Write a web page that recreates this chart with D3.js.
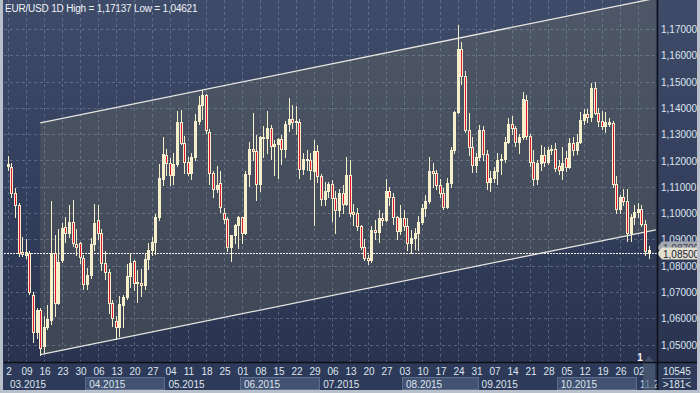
<!DOCTYPE html>
<meta charset="utf-8">
<style>
  body { margin: 0; background: #2d3a58; }
  svg { display: block; font-family: 'Liberation Sans', Arial, sans-serif; }
</style>
<body>
<div id="chart"></div>
<script src="https://cdn.jsdelivr.net/npm/d3@7"></script>
<script>
// daily EUR/USD candles, 02.03.2015 .. 05.11.2015
var opens = [
  1.1180,1.1174,1.1075,1.1031,1.0853,1.0840,1.0847,1.0690,1.0547,1.0632,
  1.0495,1.0566,1.0594,1.0850,1.0660,1.0822,1.0948,1.0923,1.0967,1.0882,
  1.0885,1.0828,1.0730,1.0764,1.0882,1.0975,1.0923,1.0811,1.0777,1.0657,
  1.0590,1.0566,1.0651,1.0680,1.0761,1.0818,1.0735,1.0735,1.0727,1.0824,
  1.0860,1.0889,1.0986,1.1128,1.1221,1.1190,1.1145,1.1185,1.1345,1.1265,
  1.1196,1.1152,1.1212,1.1352,1.1411,1.1449,1.1310,1.1152,1.1091,1.1113,
  1.1001,1.0976,1.0870,1.0917,1.0953,1.0985,1.0925,1.1150,1.1245,1.1237,
  1.1112,1.1290,1.1287,1.1324,1.1257,1.1262,1.1280,1.1244,1.1337,1.1358,
  1.1345,1.1345,1.1167,1.1205,1.1200,1.1160,1.1235,1.1140,1.1055,1.1085,
  1.1111,1.1057,1.1012,1.1076,1.1035,1.1145,1.1005,1.1000,1.0950,1.0870,
  1.0830,1.0820,1.0935,1.0930,1.0980,1.0975,1.1085,1.1060,1.0985,1.0933,
  1.0980,1.0950,1.0885,1.0905,1.0925,1.0968,1.1018,1.1045,1.1160,1.1152,
  1.1108,1.1075,1.1025,1.1115,1.1240,1.1385,1.1625,1.1520,1.1316,1.1253,
  1.1183,1.1213,1.1315,1.1225,1.1118,1.1135,1.1160,1.1200,1.1205,1.1270,
  1.1340,1.1325,1.1270,1.1290,1.1430,1.1295,1.1195,1.1130,1.1190,1.1220,
  1.1195,1.1240,1.1245,1.1180,1.1165,1.1210,1.1175,1.1265,1.1240,1.1270,
  1.1355,1.1378,1.1365,1.1475,1.1380,1.1350,1.1330,1.1340,1.1342,1.1110,
  1.1015,1.1060,1.1045,1.0925,1.0985,1.1005,1.1015,1.0960,1.0847
];
var highs = [
  1.1218,1.1190,1.1095,1.1040,1.0910,1.0900,1.0855,1.0699,1.0641,1.0640,
  1.0610,1.0650,1.1046,1.0917,1.0940,1.0962,1.0987,1.1030,1.1050,1.0940,
  1.0890,1.0840,1.0790,1.0905,1.1036,1.1030,1.0940,1.0857,1.0788,1.0671,
  1.0610,1.0683,1.0690,1.0806,1.0850,1.0820,1.0782,1.0787,1.0848,1.0887,
  1.0908,1.0995,1.1186,1.1290,1.1245,1.1208,1.1230,1.1390,1.1391,1.1294,
  1.1214,1.1228,1.1376,1.1445,1.1467,1.1452,1.1319,1.1159,1.1180,1.1161,
  1.1018,1.0984,1.0912,1.0959,1.0990,1.0986,1.1160,1.1270,1.1380,1.1296,
  1.1294,1.1330,1.1387,1.1335,1.1278,1.1285,1.1296,1.1350,1.1436,1.1412,
  1.1409,1.1358,1.1230,1.1240,1.1230,1.1278,1.1258,1.1150,1.1120,1.1120,
  1.1125,1.1085,1.1090,1.1105,1.1214,1.1200,1.1035,1.1020,1.0955,1.0900,
  1.0842,1.0950,1.0975,1.1010,1.1000,1.1128,1.1100,1.1075,1.0990,1.1030,
  1.1010,1.0980,1.0935,1.0945,1.0990,1.1035,1.1070,1.1214,1.1190,1.1165,
  1.1130,1.1095,1.1135,1.1250,1.1390,1.1714,1.1650,1.1540,1.1380,1.1290,
  1.1230,1.1335,1.1330,1.1240,1.1160,1.1175,1.1230,1.1225,1.1290,1.1360,
  1.1370,1.1330,1.1300,1.1460,1.1450,1.1300,1.1240,1.1200,1.1260,1.1250,
  1.1250,1.1260,1.1265,1.1200,1.1250,1.1235,1.1285,1.1290,1.1300,1.1385,
  1.1395,1.1395,1.1495,1.1500,1.1400,1.1390,1.1385,1.1360,1.1350,1.1140,
  1.1070,1.1090,1.1090,1.0995,1.1030,1.1040,1.1030,1.0975,1.0875
];
var lows = [
  1.1165,1.1062,1.0986,1.0838,1.0835,1.0830,1.0692,1.0511,1.0525,1.0462,
  1.0470,1.0560,1.0580,1.0610,1.0655,1.0815,1.0890,1.0910,1.0875,1.0840,
  1.0810,1.0712,1.0712,1.0755,1.0858,1.0900,1.0782,1.0748,1.0622,1.0571,
  1.0520,1.0534,1.0566,1.0672,1.0720,1.0707,1.0662,1.0686,1.0711,1.0787,
  1.0840,1.0846,1.0973,1.1107,1.1145,1.1106,1.1112,1.1180,1.1262,1.1152,
  1.1143,1.1130,1.1200,1.1340,1.1356,1.1305,1.1109,1.1061,1.1080,1.1003,
  1.0964,1.0855,1.0818,1.0888,1.0869,1.0887,1.0921,1.1104,1.1203,1.1050,
  1.1083,1.1213,1.1228,1.1207,1.1146,1.1134,1.1187,1.1215,1.1313,1.1325,
  1.1300,1.1134,1.1150,1.1165,1.1130,1.0955,1.1120,1.1030,1.1030,1.1060,
  1.0970,1.0924,1.0990,1.1000,1.1030,1.0990,1.0955,1.0935,1.0862,1.0820,
  1.0808,1.0815,1.0900,1.0890,1.0955,1.0970,1.1030,1.0960,1.0900,1.0920,
  1.0935,1.0860,1.0850,1.0865,1.0860,1.0960,1.0990,1.1040,1.1100,1.1090,
  1.1060,1.1015,1.1020,1.1100,1.1230,1.1380,1.1490,1.1310,1.1220,1.1155,
  1.1155,1.1200,1.1200,1.1090,1.1085,1.1120,1.1110,1.1150,1.1195,1.1265,
  1.1300,1.1255,1.1230,1.1280,1.1280,1.1180,1.1105,1.1110,1.1165,1.1180,
  1.1185,1.1225,1.1160,1.1150,1.1130,1.1160,1.1170,1.1220,1.1225,1.1265,
  1.1340,1.1345,1.1350,1.1375,1.1330,1.1320,1.1310,1.1330,1.1100,1.1000,
  1.1000,1.1030,1.0895,1.0895,1.0960,1.0985,1.0950,1.0840,1.0830
];
var closes = [
  1.1188,1.1075,1.1031,1.0847,1.0843,1.0852,1.0699,1.0547,1.0632,1.0488,
  1.0566,1.0596,1.0850,1.0657,1.0815,1.0942,1.0923,1.0967,1.0885,1.0872,
  1.0834,1.0730,1.0764,1.0882,1.0961,1.0923,1.0811,1.0777,1.0657,1.0600,
  1.0566,1.0654,1.0680,1.0761,1.0809,1.0735,1.0739,1.0727,1.0824,1.0860,
  1.0889,1.0986,1.1132,1.1224,1.1190,1.1145,1.1185,1.1345,1.1265,1.1196,
  1.1152,1.1212,1.1352,1.1411,1.1449,1.1316,1.1152,1.1091,1.1108,1.1024,
  1.0976,1.0870,1.0917,1.0953,1.0985,1.0925,1.1150,1.1245,1.1237,1.1112,
  1.1290,1.1287,1.1324,1.1257,1.1262,1.1280,1.1244,1.1337,1.1358,1.1345,
  1.1350,1.1167,1.1205,1.1200,1.1162,1.1235,1.1140,1.1055,1.1085,1.1110,
  1.1057,1.1012,1.1076,1.1035,1.1145,1.1002,1.0995,1.0950,1.0870,1.0830,
  1.0820,1.0935,1.0930,1.0980,1.0975,1.1085,1.1060,1.0985,1.0933,1.0980,
  1.0950,1.0885,1.0905,1.0925,1.0968,1.1018,1.1045,1.1160,1.1152,1.1105,
  1.1075,1.1025,1.1115,1.1240,1.1385,1.1625,1.1520,1.1316,1.1253,1.1183,
  1.1213,1.1315,1.1225,1.1118,1.1135,1.1160,1.1200,1.1205,1.1270,1.1340,
  1.1325,1.1270,1.1290,1.1435,1.1295,1.1195,1.1130,1.1190,1.1220,1.1195,
  1.1240,1.1245,1.1170,1.1165,1.1190,1.1175,1.1265,1.1240,1.1270,1.1355,
  1.1378,1.1365,1.1475,1.1380,1.1350,1.1330,1.1345,1.1345,1.1110,1.1015,
  1.1060,1.1045,1.0925,1.0985,1.1005,1.1015,1.0960,1.0855,1.0858
];

// weekly ticks (every 5th candle) and month bands
var weekLabels = ["2","09","16","23","30","06","13","20","27","04","11","18","25",
  "01","08","15","22","29","06","13","20","27","03","10","17","24","31",
  "07","14","21","28","05","12","19","26","02"];
var monthLabels = ["03.2015","04.2015","05.2015","06.2015","07.2015","08.2015","09.2015","10.2015","11.2015"];
var monthStarts = [0, 22, 44, 65, 87, 110, 131, 153, 175];

var priceTicks = [1.05,1.06,1.07,1.08,1.09,1.10,1.11,1.12,1.13,1.14,1.15,1.16,1.17];
var lastPrice = 1.0850, askPrice = 1.0870;
var titleHigh = 1.17137, titleLow = 1.04621;

// trend channel, [candle index, price]
var channelLower = [[9, 1.0462], [180, 1.0936]];
var channelUpper = [[9, 1.1343], [180, 1.1817]];

var W = 700, H = 393;
var plotL = 4, plotR = 657, plotB = 362;

var fmt = function(v) { return v.toFixed(5).replace(".", ","); };

var x = d3.scaleLinear().domain([0, 178]).range([7.8, 648.6]);
var y = d3.scaleLinear().domain([1.05, 1.17]).range([344.6, 29]);

var svg = d3.select("#chart").append("svg")
    .attr("width", W)
    .attr("height", H);

var defs = svg.append("defs");
var grad = defs.append("linearGradient")
    .attr("id", "bg").attr("x1", 0).attr("y1", 0).attr("x2", 0).attr("y2", 1);
grad.append("stop").attr("offset", "0%").attr("stop-color", "#3e4b69");
grad.append("stop").attr("offset", "100%").attr("stop-color", "#2a3451");

defs.append("clipPath").attr("id", "plotclip")
  .append("rect").attr("x", plotL).attr("y", 0)
    .attr("width", plotR - plotL).attr("height", plotB);
defs.append("clipPath").attr("id", "axisclip")
  .append("rect").attr("x", plotL).attr("y", plotB)
    .attr("width", plotR - plotL).attr("height", H - plotB);

// backgrounds
svg.append("rect").attr("width", W).attr("height", H).attr("fill", "#2d3a59");
svg.append("rect").attr("x", 0).attr("y", 0).attr("width", W).attr("height", plotB)
    .attr("fill", "url(#bg)");

var plot = svg.append("g").attr("clip-path", "url(#plotclip)");

// channel fill
var chanPts = [channelLower[0], channelLower[1], channelUpper[1], channelUpper[0]];
plot.append("polygon")
    .attr("points", chanPts.map(function(d) { return x(d[0]) + "," + y(d[1]); }).join(" "))
    .attr("fill", "rgba(125,122,95,0.26)");

// grid
plot.selectAll(".hgrid")
    .data(priceTicks)
    .enter().append("line")
    .attr("x1", plotL).attr("x2", plotR)
    .attr("y1", function(d) { return Math.round(y(d)) + 0.5; })
    .attr("y2", function(d) { return Math.round(y(d)) + 0.5; })
    .attr("stroke", "rgba(150,165,190,0.4)")
    .attr("stroke-dasharray", "3,3");

plot.selectAll(".vgrid")
    .data(weekLabels)
    .enter().append("line")
    .attr("x1", function(d, i) { return Math.round(x(i * 5)) + 0.5; })
    .attr("x2", function(d, i) { return Math.round(x(i * 5)) + 0.5; })
    .attr("y1", 0).attr("y2", plotB)
    .attr("stroke", "rgba(150,165,190,0.4)")
    .attr("stroke-dasharray", "3,3");

// channel lines
[channelLower, channelUpper].forEach(function(l) {
    plot.append("line")
        .attr("x1", x(l[0][0])).attr("y1", y(l[0][1]))
        .attr("x2", x(l[1][0])).attr("y2", y(l[1][1]))
        .attr("stroke", "#e6e6e0")
        .attr("stroke-width", 1.3);
});

// current price line
plot.append("line")
    .attr("x1", plotL).attr("x2", plotR)
    .attr("y1", Math.round(y(lastPrice)) + 0.5)
    .attr("y2", Math.round(y(lastPrice)) + 0.5)
    .attr("stroke", "#f0f0f0")
    .attr("stroke-dasharray", "2,1");

// candles
var candles = opens.map(function(o, i) {
    return { i: i, o: o, h: highs[i], l: lows[i], c: closes[i] };
});

var cg = plot.selectAll(".candle")
    .data(candles)
    .enter().append("g");

cg.append("line")
    .attr("x1", function(d) { return Math.round(x(d.i)) + 0.5; })
    .attr("x2", function(d) { return Math.round(x(d.i)) + 0.5; })
    .attr("y1", function(d) { return Math.round(y(d.h)); })
    .attr("y2", function(d) { return Math.round(y(d.l)) + 1; })
    .attr("stroke", "#f6efcc");

cg.append("rect")
    .attr("x", function(d) { return Math.round(x(d.i)) - 0.5; })
    .attr("y", function(d) { return Math.round(y(Math.max(d.o, d.c))) + 0.5; })
    .attr("width", 2)
    .attr("height", function(d) {
        return Math.max(1, Math.round(y(Math.min(d.o, d.c))) - Math.round(y(Math.max(d.o, d.c))));
    })
    .attr("fill", function(d) { return d.c < d.o ? "#e5132f" : "#33404f"; })
    .attr("fill-opacity", function(d) { return d.c < d.o ? 1 : 0; })
    .attr("stroke", "#f6efcc");

// "1" marker
svg.append("text").attr("x", 640).attr("y", 361)
    .attr("text-anchor", "middle")
    .attr("fill", "#f2f2f2").attr("font-size", "10px").attr("font-weight", "bold")
    .text("1");

// bottom axis: month bands
var axisG = svg.append("g").attr("clip-path", "url(#axisclip)");
monthLabels.forEach(function(m, i) {
    var x0 = x(monthStarts[i]) - 1.8;
    var x1 = i < monthLabels.length - 1 ? x(monthStarts[i + 1]) - 1.8 : plotR;
    if (i % 2 == 1) {
        axisG.append("rect")
            .attr("x", Math.round(x0) + 0.5).attr("y", 377.5)
            .attr("width", Math.round(x1 - x0)).attr("height", 12)
            .attr("fill", "#425272").attr("stroke", "#5c6d8b");
    }
    axisG.append("text")
        .attr("x", Math.max(x0, plotL) + 4).attr("y", 387.5)
        .attr("fill", "#dfe5ee").attr("font-size", "10px")
        .text(m);
});

// week labels
axisG.selectAll(".wk")
    .data(weekLabels)
    .enter().append("text")
    .attr("x", function(d, i) { return x(i * 5) + 1.2; })
    .attr("y", 375)
    .attr("text-anchor", "middle")
    .attr("fill", "#dfe5ee").attr("font-size", "10px")
    .text(function(d) { return d; });

// scroll marker at the right end
svg.append("path")
    .attr("d", "M643,363 L649,356 L655,363 L655,390 L643,390 Z")
    .attr("fill", "rgba(80,95,120,0.7)");

// right price axis
svg.selectAll(".ptick")
    .data(priceTicks)
    .enter().append("text")
    .attr("x", 661)
    .attr("y", function(d) { return y(d) + 4; })
    .attr("fill", "#dde5f0").attr("font-size", "10px")
    .text(function(d) { return fmt(d); });

function priceTag(p, fill, txt) {
    var yy = Math.round(y(p)) + 0.5;
    svg.append("path")
        .attr("d", "M657," + yy + " L662," + (yy - 6) + " L697," + (yy - 6) +
              " L697," + (yy + 6) + " L662," + (yy + 6) + " Z")
        .attr("fill", fill);
    svg.append("text").attr("x", 663).attr("y", yy + 4)
        .attr("fill", txt).attr("font-size", "10px")
        .text(fmt(p));
}
priceTag(askPrice, "#a3a8b0", "#38404c");
priceTag(lastPrice, "#e2dfcf", "#1c2333");

// axis lines
svg.append("line").attr("x1", plotR + 0.5).attr("x2", plotR + 0.5)
    .attr("y1", 0).attr("y2", H)
    .attr("stroke", "#0c0f16").attr("stroke-width", 1.5);
svg.append("line").attr("x1", plotL).attr("x2", W)
    .attr("y1", plotB + 0.5).attr("y2", plotB + 0.5)
    .attr("stroke", "#0c0f16").attr("stroke-width", 1.5);

// bottom-right cell
svg.append("text").attr("x", 677).attr("y", 375).attr("text-anchor", "middle")
    .attr("fill", "#dfe5ee").attr("font-size", "10px").text("10545");
svg.append("line").attr("x1", 662).attr("x2", 691).attr("y1", 378.5).attr("y2", 378.5)
    .attr("stroke", "#8090a8");
svg.append("text").attr("x", 677).attr("y", 388).attr("text-anchor", "middle")
    .attr("fill", "#dfe5ee").attr("font-size", "10px").text(">181<");

// title
svg.append("text").attr("x", 5).attr("y", 12)
    .attr("fill", "#f0f3f8").attr("font-size", "10px")
    .attr("letter-spacing", "-0.2px")
    .text("EUR/USD 1D High = " + fmt(titleHigh) + " Low = " + fmt(titleLow));

// frame
svg.append("rect").attr("x", 0).attr("y", 0).attr("width", 3).attr("height", H).attr("fill", "#b8c0cc");
svg.append("rect").attr("x", W - 3).attr("y", 0).attr("width", 3).attr("height", H).attr("fill", "#b8c0cc");
svg.append("rect").attr("x", 0).attr("y", H - 3).attr("width", W).attr("height", 3).attr("fill", "#b8c0cc");
</script>
</body>
